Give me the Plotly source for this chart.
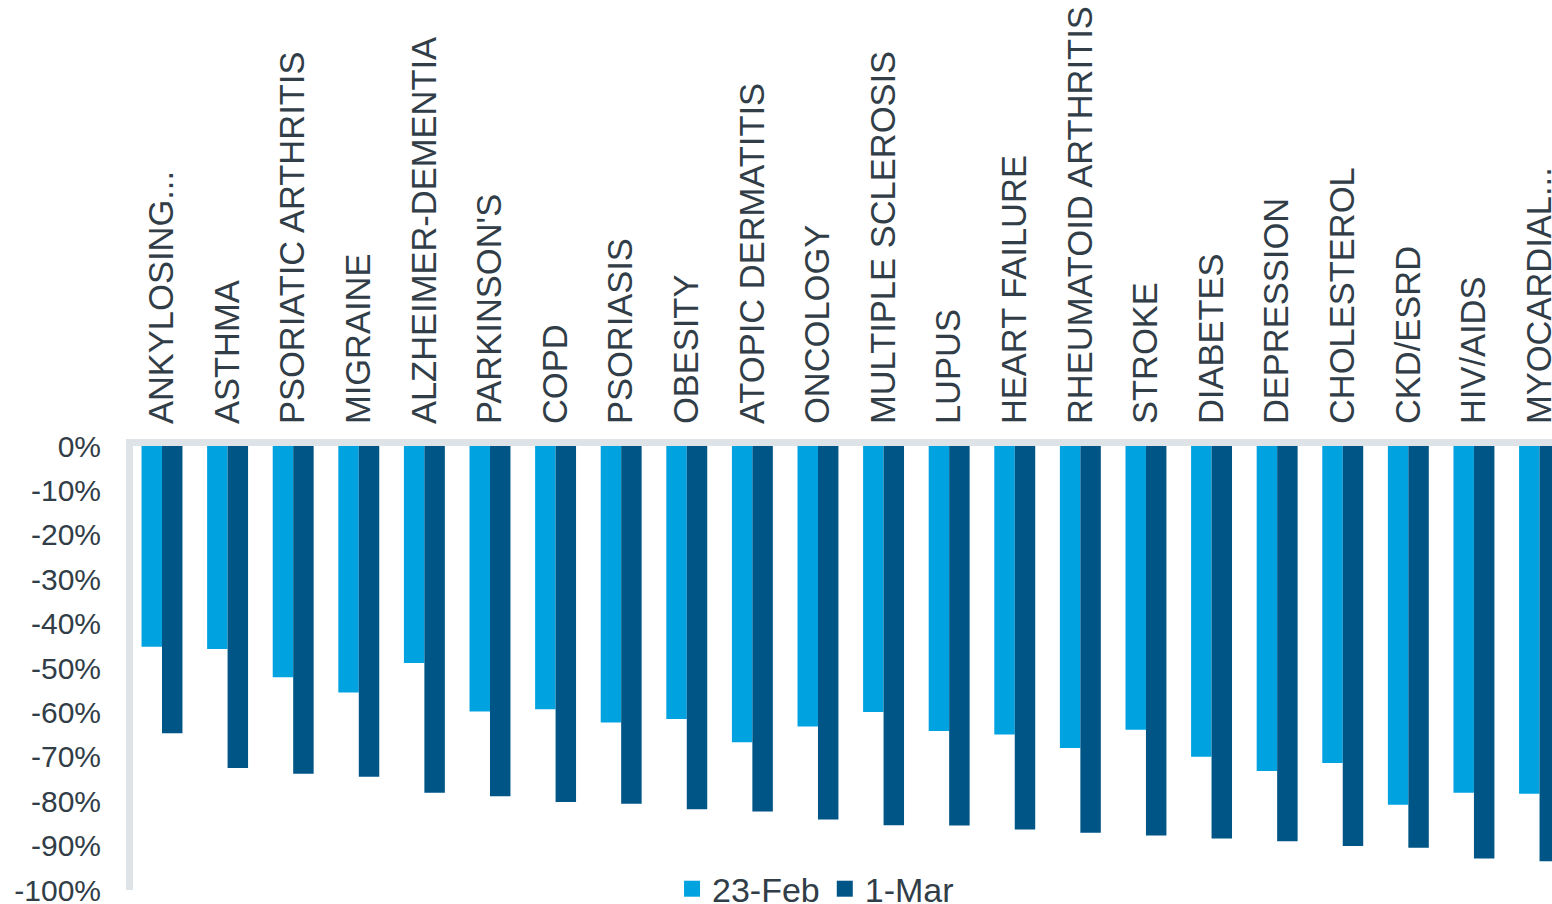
import plotly.graph_objects as go

categories = ["ANKYLOSING...", "ASTHMA", "PSORIATIC ARTHRITIS", "MIGRAINE", "ALZHEIMER-DEMENTIA",
              "PARKINSON'S", "COPD", "PSORIASIS", "OBESITY", "ATOPIC DERMATITIS", "ONCOLOGY",
              "MULTIPLE SCLEROSIS", "LUPUS", "HEART FAILURE", "RHEUMATOID ARTHRITIS", "STROKE",
              "DIABETES", "DEPRESSION", "CHOLESTEROL", "CKD/ESRD", "HIV/AIDS", "MYOCARDIAL..."]

feb23 = [-45.2, -45.7, -52.1, -55.5, -48.9, -59.8, -59.3, -62.3, -61.5, -66.7, -63.2,
         -59.9, -64.2, -65.0, -68.0, -63.9, -70.0, -73.2, -71.4, -80.8, -78.1, -78.3]
mar1 = [-64.7, -72.5, -73.8, -74.5, -78.1, -78.9, -80.2, -80.6, -81.8, -82.3, -84.1,
        -85.4, -85.5, -86.4, -87.1, -87.7, -88.4, -89.0, -90.1, -90.5, -92.9, -93.5]

y_tick_values = [0, -10, -20, -30, -40, -50, -60, -70, -80, -90, -100]
y_tick_labels = ["0%", "-10%", "-20%", "-30%", "-40%", "-50%", "-60%", "-70%", "-80%", "-90%", "-100%"]

series_names = ["23-Feb", "1-Mar"]
colors = ["#00a3e0", "#005587"]
text_color = "#313d47"
axis_color = "#dde3e6"
font_family = "Arial, Liberation Sans, sans-serif"

fig = go.Figure()
for name, vals, col in zip(series_names, [feb23, mar1], colors):
    fig.add_trace(go.Bar(x=list(range(len(categories))), y=vals, name=name,
                         marker=dict(color=col, line=dict(width=0)), showlegend=False))
# legend entries with larger square swatches
for name, col in zip(series_names, colors):
    fig.add_trace(go.Scatter(x=[None], y=[None], mode="markers", name=name,
                             marker=dict(symbol="square", size=16, color=col),
                             showlegend=True))

fig.update_layout(
    width=1552, height=904,
    margin=dict(l=133, r=0, t=446, b=14, autoexpand=False),
    paper_bgcolor="white", plot_bgcolor="white",
    barmode="group", bargap=0.376, bargroupgap=0,
    font=dict(family=font_family, color=text_color),
    showlegend=True,
    legend=dict(orientation="h", x=0.481, xanchor="center", y=0.002, yanchor="middle",
                font=dict(size=34, family=font_family, color=text_color),
                traceorder="normal", itemsizing="trace", itemwidth=30,
                bgcolor="rgba(0,0,0,0)"),
    xaxis=dict(
        side="top", tickmode="array", tickvals=list(range(len(categories))), ticktext=categories,
        range=[-0.442, 21.19], tickangle=-90, showgrid=False, zeroline=False,
        showline=True, linecolor=axis_color, linewidth=7, ticks="",
        tickfont=dict(size=34.5, family=font_family, color=text_color),
        ticklabelstandoff=8, ticklabeloverflow="allow",
    ),
    yaxis=dict(
        range=[-100, 0], tickmode="array", tickvals=y_tick_values, ticktext=y_tick_labels,
        showgrid=False, zeroline=False, showline=True, linecolor=axis_color, linewidth=7,
        ticks="", tickfont=dict(size=30, family=font_family, color=text_color),
        ticklabelstandoff=19, ticklabeloverflow="allow",
    ),
)

fig.write_html("out.html")
